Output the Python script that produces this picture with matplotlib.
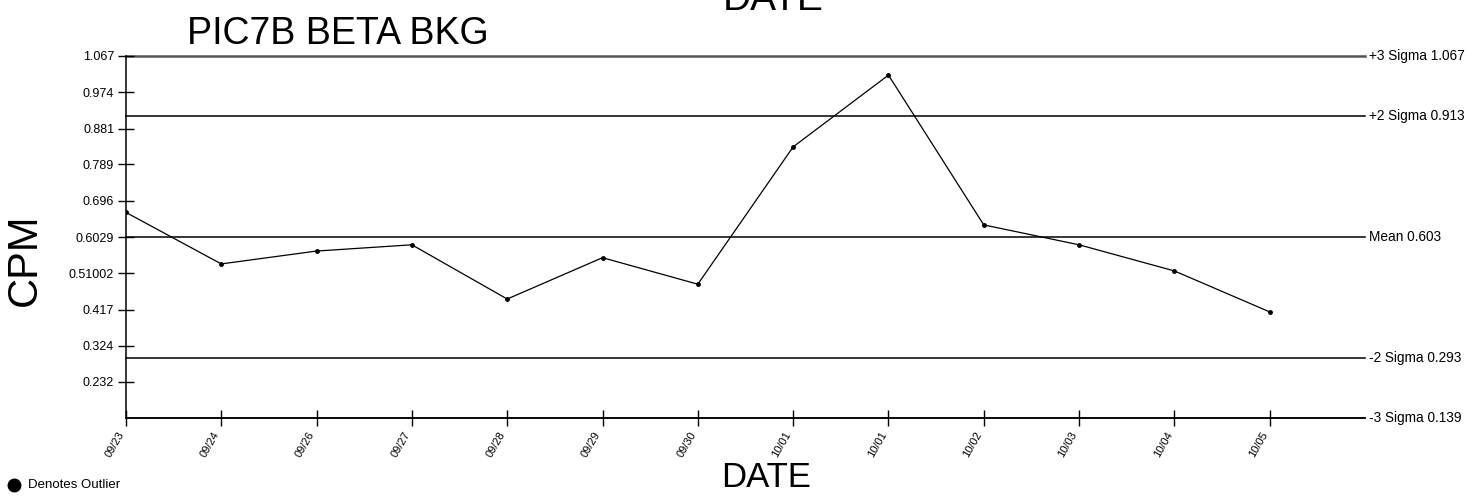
import matplotlib.pyplot as plt
import matplotlib.transforms as mtransforms
from matplotlib.lines import Line2D

plt.rcParams['font.family'] = ['Liberation Sans', 'DejaVu Sans']

# Data
dates = ["09/23", "09/24", "09/26", "09/27", "09/28", "09/29", "09/30",
         "10/01", "10/01", "10/02", "10/03", "10/04", "10/05"]
cpm = [0.666, 0.534, 0.567, 0.583, 0.444, 0.550, 0.482,
       0.834, 1.018, 0.634, 0.583, 0.516, 0.411]

# Control limits
limit_names = ["+3 Sigma", "+2 Sigma", "Mean", "-2 Sigma", "-3 Sigma"]
limit_values = [1.067, 0.913, 0.603, 0.293, 0.139]

# Y tick values / labels as printed
ytick_values = [1.067, 0.974, 0.881, 0.789, 0.696, 0.6029, 0.51002, 0.417, 0.324, 0.232]
ytick_labels = ["1.067", "0.974", "0.881", "0.789", "0.696", "0.6029", "0.51002",
                "0.417", "0.324", "0.232"]

fig = plt.figure(figsize=(14.73, 4.98), dpi=100)
ax = fig.add_axes([0.0855, 0.1606, 0.8412, 0.727])

x = list(range(len(dates)))
ax.plot(x, cpm, color="black", linewidth=0.9, marker="o", markersize=2.5)

# control limit lines with labels on the right
trans = mtransforms.blended_transform_factory(ax.transAxes, ax.transData)
for name, val in zip(limit_names, limit_values):
    if name == "+3 Sigma":
        ax.axhline(val, color="#555555", linewidth=1.8, zorder=1, clip_on=False)
    else:
        ax.axhline(val, color="black", linewidth=1.1, zorder=1, clip_on=False)
    ax.text(1.003, val, f"{name} {val:.3f}", transform=trans,
            ha="left", va="center", fontsize=9.8)

ax.set_xlim(0, 13)
ax.set_ylim(limit_values[-1], limit_values[0])

ax.set_xticks(x)
ax.set_xticklabels(dates, rotation=60, ha="right", va="top", fontsize=8)
ax.set_yticks(ytick_values)
ax.set_yticklabels(ytick_labels, fontsize=9)
ax.tick_params(axis="both", direction="inout", length=11, width=1, pad=3)

for side in ["top", "right"]:
    ax.spines[side].set_visible(False)
ax.spines["left"].set_linewidth(1.1)
ax.spines["bottom"].set_linewidth(1.1)

# titles and axis names
fig.text(0.229, 0.967, "PIC7B BETA BKG", ha="center", va="top", fontsize=27)
fig.text(0.017, 0.478, "CPM", rotation=90, ha="center", va="center", fontsize=30)
fig.text(0.52, 0.008, "DATE", ha="center", va="bottom", fontsize=25)
fig.text(0.525, 0.98, "DATE", ha="center", va="baseline", fontsize=28)

# outlier legend
fig.add_artist(Line2D([0.0095], [0.027], marker="o", markersize=9, color="black",
                      linestyle="none", transform=fig.transFigure))
fig.text(0.019, 0.026, "Denotes Outlier", ha="left", va="center", fontsize=9.5)

fig.savefig("out.png", dpi=100)
